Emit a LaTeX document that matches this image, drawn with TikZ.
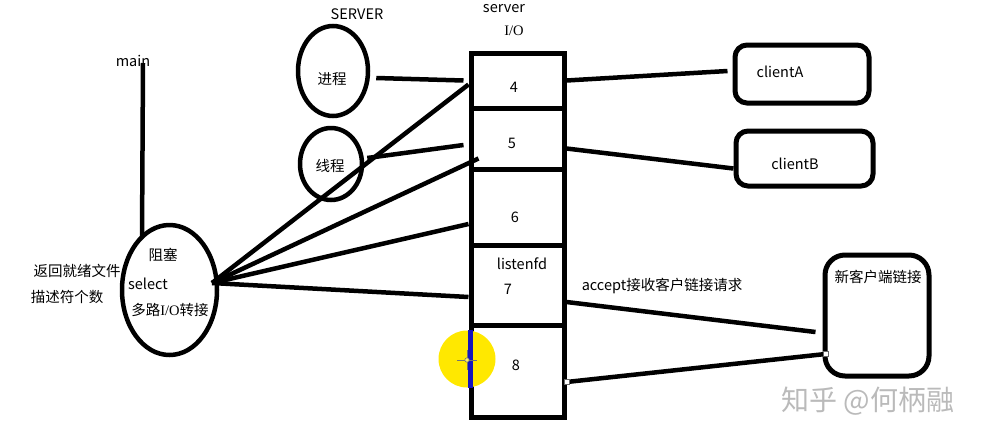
\documentclass[tikz,border=0pt]{standalone}
\usepackage{fontspec}
\setmainfont{Noto Sans CJK SC}
\newfontfamily\ioserif{Liberation Serif}
\usetikzlibrary{shapes.geometric}
\definecolor{hiyellow}{RGB}{255,232,0}
\definecolor{hiblue}{RGB}{20,20,190}
\tikzset{
  thickline/.style={line width=4.5pt},
  fdcell/.style={draw, line width=5pt, minimum width=93pt, inner sep=0pt},
  bubble/.style={draw, ellipse, line width=4.5pt, inner sep=0pt},
  clientbox/.style={draw, line width=5pt, rounded corners=12pt, inner sep=0pt},
  txt/.style={inner sep=0pt, font=\fontsize{14.5}{16}\selectfont},
  handle/.style={draw=black!60, fill=white, line width=0.6pt, minimum size=5pt, inner sep=0pt},
}
\begin{document}
\begin{tikzpicture}[x=1pt,y=-1pt]
    \useasboundingbox (0,0) rectangle (985,440);
    % fd table of the server
    \node[fdcell, minimum height=55pt] (c4) at (517.5,80.5) {};
    \node[fdcell, minimum height=61pt] (c5) at (517.5,138.5) {};
    \node[fdcell, minimum height=76pt] (c6) at (517.5,207) {};
    \node[fdcell, minimum height=80pt] (c7) at (517.5,285) {};
    \node[fdcell, minimum height=92pt] (c8) at (517.5,371) {};
    \node[txt] (l4) at (514,87) {4};
    \node[txt] (l5) at (512,143) {5};
    \node[txt] (l6) at (515,217) {6};
    \node[txt] (lfd) at (522,264) {listenfd};
    \node[txt] (l7) at (508,289) {7};
    \node[txt] (l8) at (516,365) {8};
    \node[txt] (srv) at (504,9) {server};
    \node[txt] (io) at (514,31) {\ioserif I/O};
    % process and thread
    \node[txt] (SRV) at (357,14) {SERVER};
    \node[bubble, minimum width=70pt, minimum height=90pt] (proc) at (333,71) {};
    \node[txt] at (332,79) {进程};
    \node[bubble, minimum width=62pt, minimum height=72pt] (thrd) at (331,164) {};
    \node[txt] at (330,166) {线程};
    % main and select
    \node[txt] (main) at (133,61) {main};
    \coordinate (mainTop) at (143,63);
    \coordinate (mainEnd) at (142,238);
    \draw[thickline] (mainTop) -- (mainEnd);
    \node[bubble, minimum width=95pt, minimum height=130pt] (sel) at (169.5,290) {};
    \node[txt] at (163,255) {阻塞};
    \node[txt] at (148,284) {select};
    \node[txt] at (170,310) {多路{\ioserif I/O}转接};
    \node[txt] at (77,271) {返回就绪文件};
    \node[txt] at (67,297) {描述符个数};
    \coordinate (selR) at (212,283);
    \draw[thickline] (selR) -- ([yshift=-4pt]c4.west);
    \draw[thickline] (selR) -- ([xshift=10pt,yshift=-20pt]c5.west);
    \draw[thickline] (selR) -- ([yshift=-17pt]c6.west);
    \draw[thickline] (selR) -- ([yshift=-12pt]c7.west);
    \draw[thickline] ([xshift=6pt,yshift=-7pt]proc.east) -- ([xshift=-5pt]c4.west);
    \draw[thickline] ([xshift=3pt,yshift=6pt]thrd.east) -- ([xshift=-5pt,yshift=-6.5pt]c5.west);
    % clients
    \node[clientbox, minimum width=134pt, minimum height=58pt] (cliA) at (802,74) {};
    \node[txt] at (780,72) {clientA};
    \node[clientbox, minimum width=137pt, minimum height=55pt] (cliB) at (804.5,158.5) {};
    \node[txt] at (795,164) {clientB};
    \node[clientbox, rounded corners=20pt, minimum width=104pt, minimum height=121pt] (newcli) at (877,315.5) {};
    \node[txt] at (878,277) {新客户端链接};
    \draw[thickline] (c4.east) -- ([xshift=-5pt,yshift=3pt]cliA.west);
    \draw[thickline] ([yshift=-10pt]c5.east) -- ([yshift=-10pt]cliB.west);
    \draw[thickline] ([yshift=-17pt]c7.east) -- ([xshift=-7pt,yshift=-16.5pt]newcli.west);
    \node[txt] (acc) at (662,286) {accept接收客户链接请求};
    \draw[thickline] ([yshift=-11pt]c8.east) -- ([xshift=3pt,yshift=-38.5pt]newcli.west);
    \node[handle] at ([yshift=-11pt]c8.east) {};
    \node[handle] at ([xshift=3pt,yshift=-38.5pt]newcli.west) {};
    % cursor highlight
    \fill[hiyellow] (467,359) circle (28.5);
    \draw[hiblue, line width=5pt] (470.5,330) -- (470.5,388);
    \draw[black!55, line width=0.7pt] (457,360) -- (477,360) (467,350) -- (467,370);
    \draw[black!55, fill=hiyellow!60, line width=0.6pt] (467,360) circle (2.2);
    % watermark
    \node[inner sep=0pt, text=black!27, font=\fontsize{28}{30}\selectfont] (wm) at (868,401) {知乎 @何柄融};
\end{tikzpicture}
\end{document}
